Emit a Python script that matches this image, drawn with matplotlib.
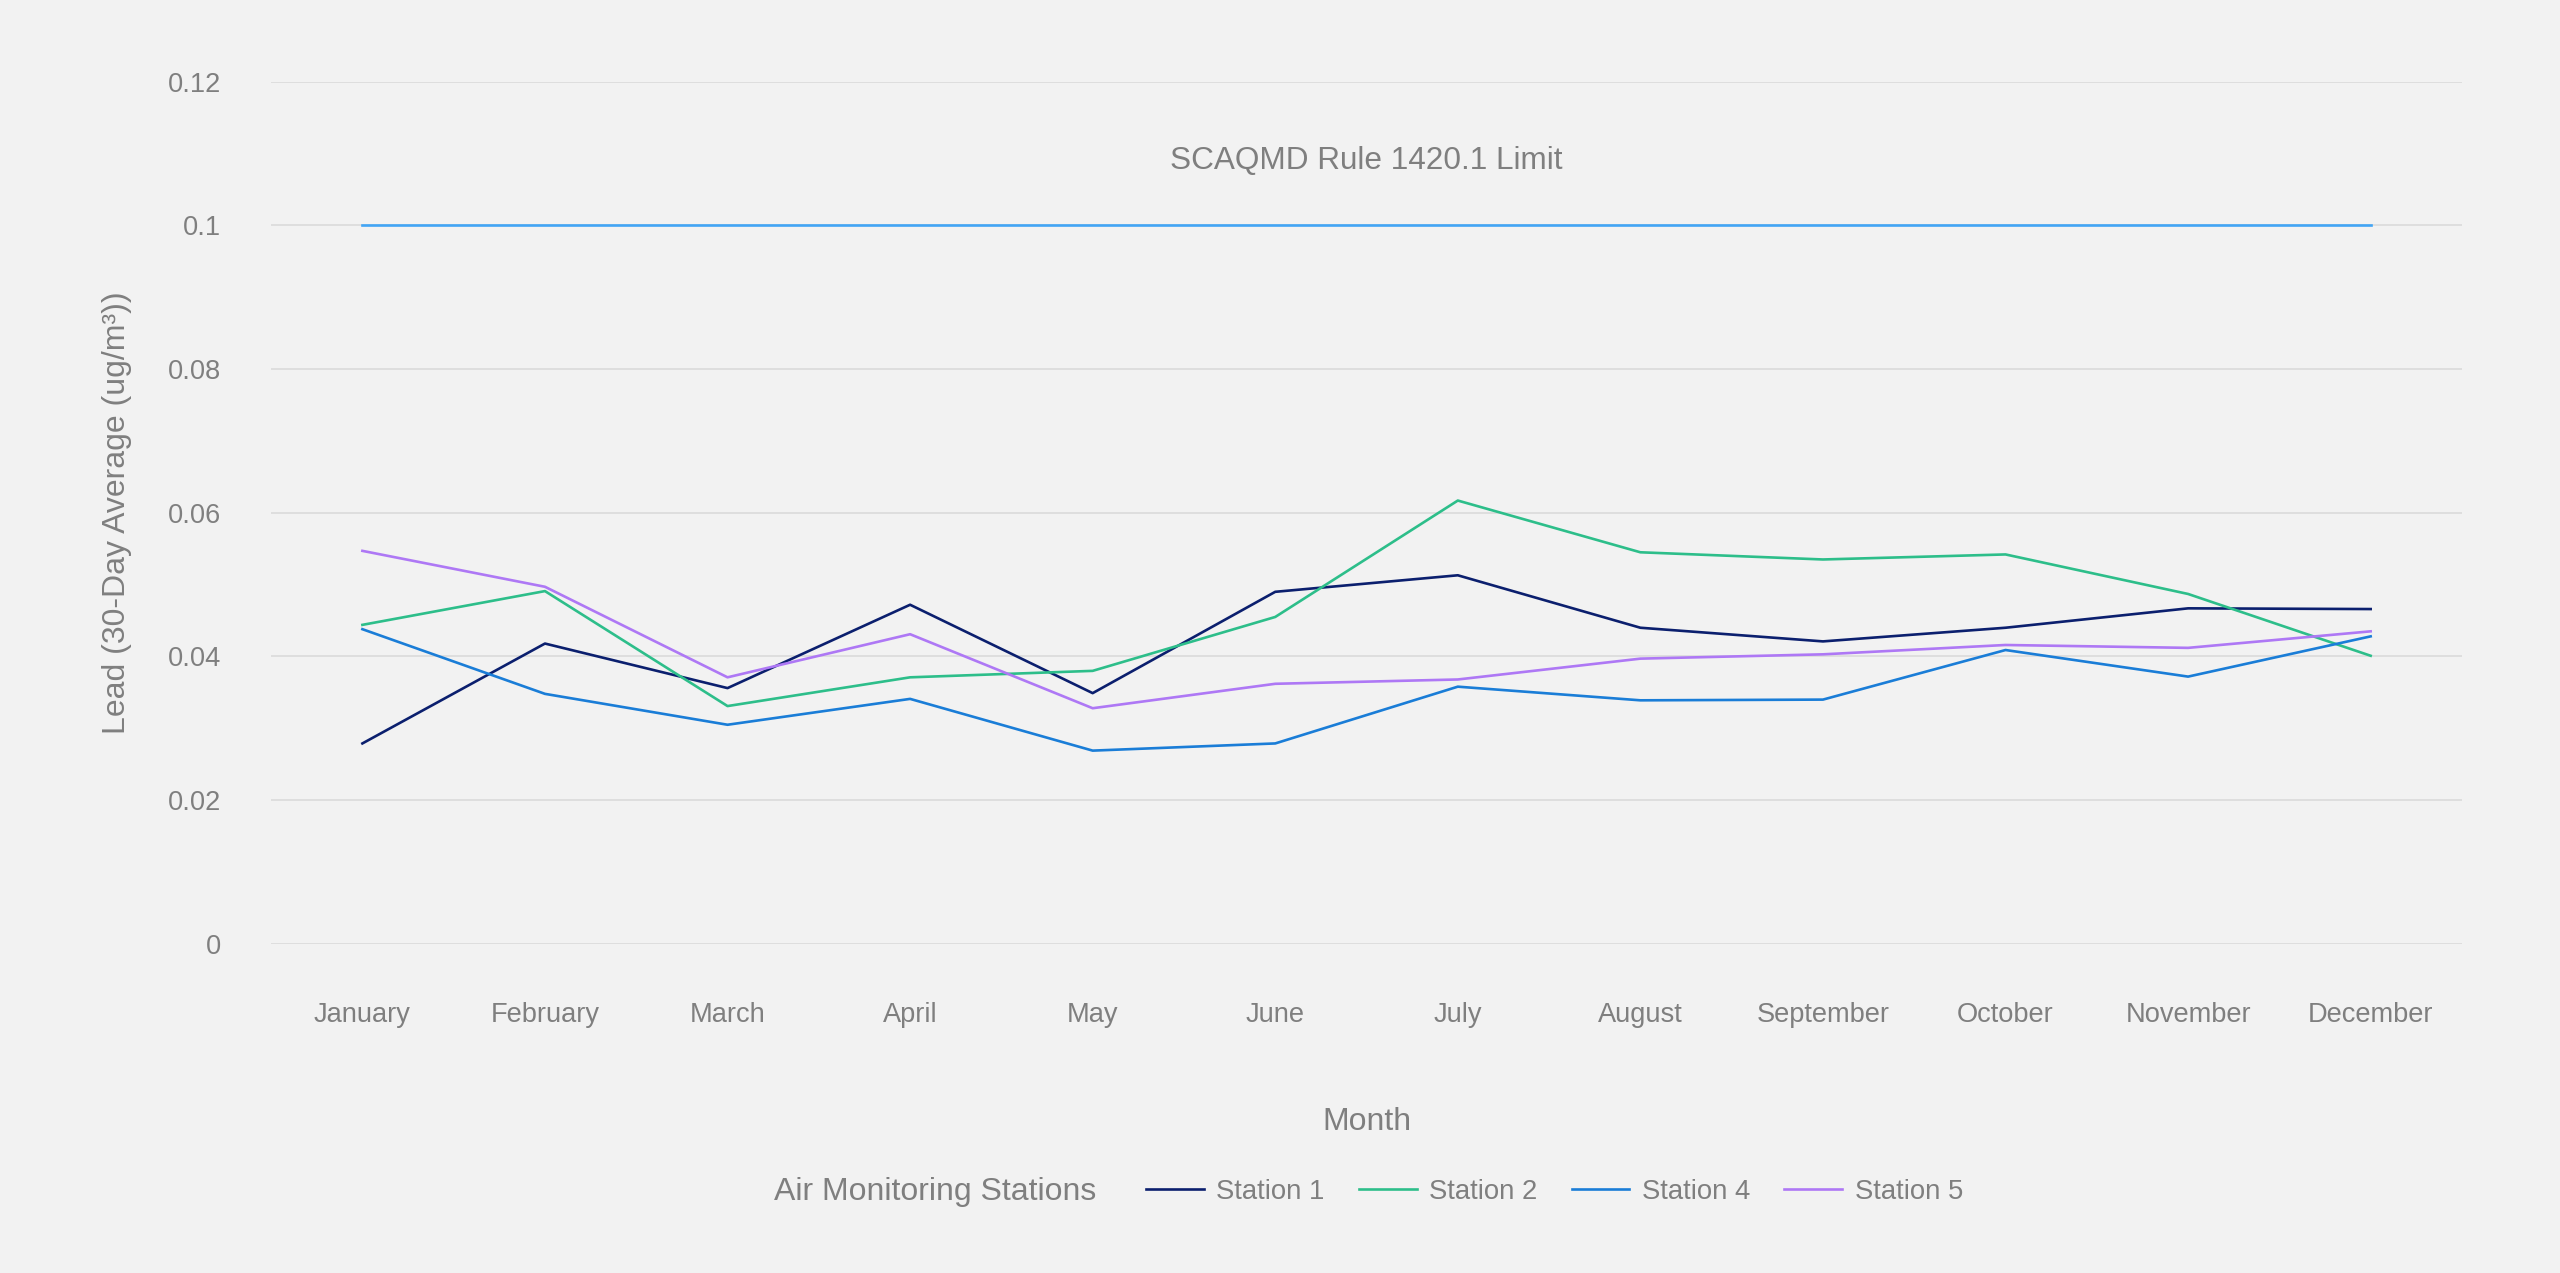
import matplotlib.pyplot as plt
import numpy as np

# Monthly 30-day average lead readings (ug/m3)
months = ['January', 'February', 'March', 'April', 'May', 'June',
          'July', 'August', 'September', 'October', 'November', 'December']
station_1 = [0.0279, 0.0418, 0.0356, 0.0472, 0.0349, 0.0490,
             0.0513, 0.0440, 0.0421, 0.0440, 0.0467, 0.0466]
station_2 = [0.0444, 0.0491, 0.0331, 0.0371, 0.0380, 0.0455,
             0.0617, 0.0545, 0.0535, 0.0542, 0.0487, 0.0401]
station_4 = [0.0438, 0.0348, 0.0305, 0.0341, 0.0269, 0.0279,
             0.0358, 0.0339, 0.0340, 0.0409, 0.0372, 0.0428]
station_5 = [0.0547, 0.0497, 0.0371, 0.0431, 0.0328, 0.0362,
             0.0368, 0.0397, 0.0403, 0.0416, 0.0412, 0.0435]
limit = 0.1
limit_label = 'SCAQMD Rule 1420.1 Limit'
yticks = [0, 0.02, 0.04, 0.06, 0.08, 0.1, 0.12]
ytick_labels = ['0', '0.02', '0.04', '0.06', '0.08', '0.1', '0.12']

series = [('Station 1', station_1, '#0B1F6E'),
          ('Station 2', station_2, '#2DBE8A'),
          ('Station 4', station_4, '#1A7DD7'),
          ('Station 5', station_5, '#AE78F5')]

plt.rcParams['font.family'] = ['Liberation Sans', 'DejaVu Sans']
text_grey = '#7F7F7F'
bg = '#F2F2F2'

fig = plt.figure(figsize=(25.6, 12.73), dpi=100)
fig.set_facecolor(bg)
ax = fig.add_axes([0.1059, 0.2585, 0.8558, 0.6774])
ax.set_facecolor(bg)

x = np.arange(len(months))

# Limit line first, then the stations on top
ax.plot(x, [limit] * len(months), color='#42A5F5', lw=1.9)
ax.text(5.5, 0.109, limit_label, ha='center', va='center',
        fontsize=22.7, color=text_grey)

handles = []
for name, vals, col in series:
    ln, = ax.plot(x, vals, color=col, lw=1.9, label=name)
    handles.append(ln)

ax.set_xlim(-0.5, len(months) - 0.5)
ax.set_ylim(0, 0.12)
ax.set_xticks(x)
ax.set_xticklabels(months)
ax.set_yticks(yticks)
ax.set_yticklabels(ytick_labels)
ax.tick_params(axis='x', length=0, pad=42, labelsize=19.6, labelcolor=text_grey)
ax.tick_params(axis='y', length=0, pad=36, labelsize=19.6, labelcolor=text_grey)
ax.grid(axis='y', color='#DADADA', lw=1.2)
ax.set_axisbelow(True)
for s in ax.spines.values():
    s.set_visible(False)

ax.set_xlabel('Month', fontsize=23, color=text_grey, va='center')
ax.xaxis.set_label_coords(0.5, -0.206)
ax.set_ylabel('Lead (30-Day Average (ug/m³))', fontsize=23, color=text_grey,
              va='center')
ax.yaxis.set_label_coords(-0.0705, 0.5)

# Legend row: title on the left, entries in one line
fig.text(0.3023, 1 - 1192 / 1273, 'Air Monitoring Stations', ha='left',
         va='center', fontsize=23, color=text_grey)
leg = fig.legend(handles=handles, loc='center left',
                 bbox_to_anchor=(0.4477, 1 - 1192 / 1273), ncol=4,
                 frameon=False, fontsize=19.8, handlelength=2.1,
                 handletextpad=0.45, columnspacing=1.25, borderpad=0,
                 borderaxespad=0)
for t in leg.get_texts():
    t.set_color(text_grey)

fig.savefig('out.png', dpi=100, facecolor=bg)
